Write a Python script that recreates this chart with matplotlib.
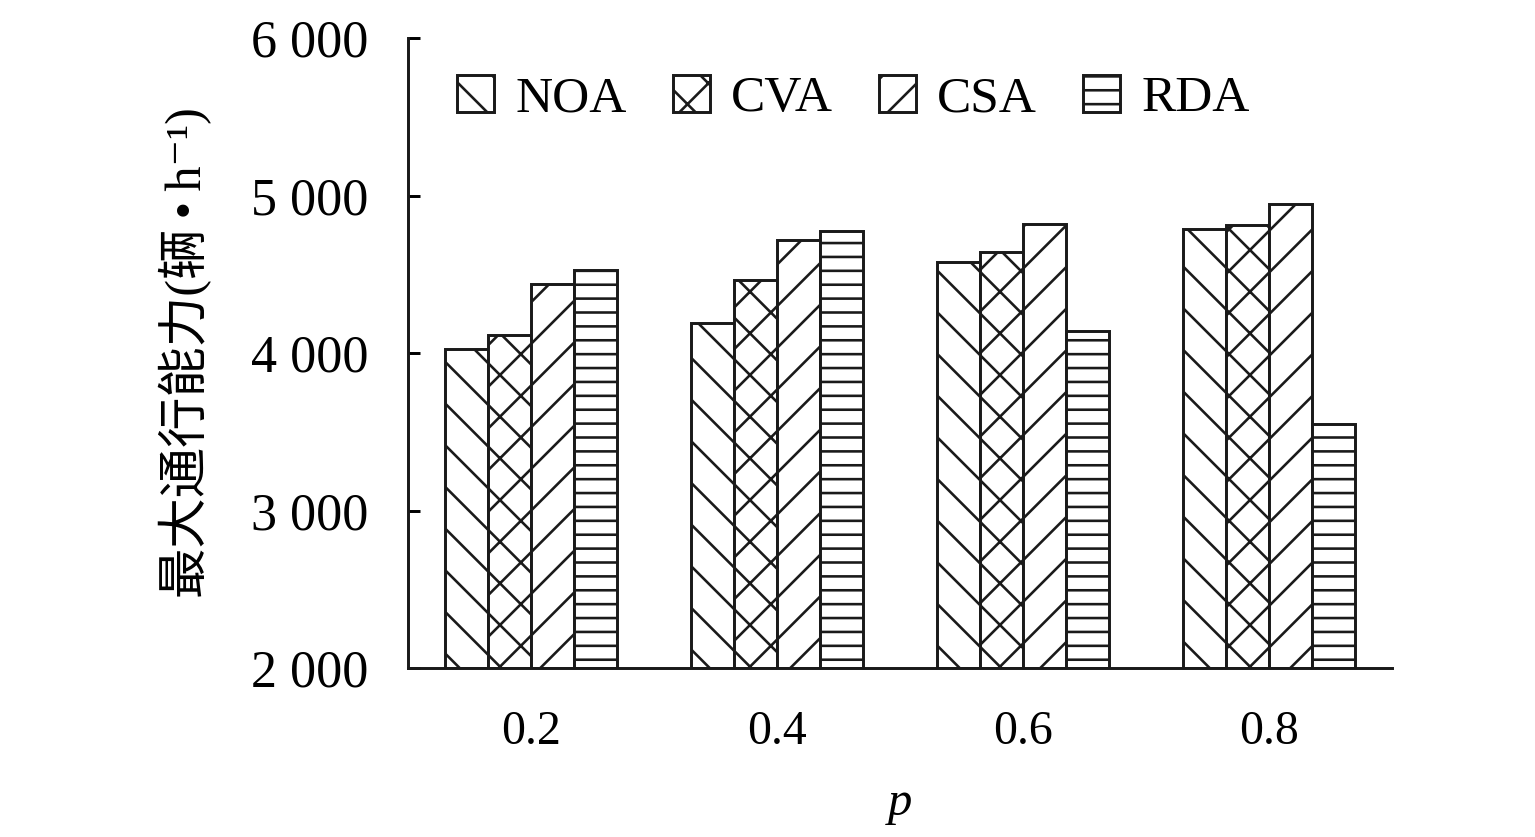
import numpy as np
import matplotlib
matplotlib.use("Agg")
import matplotlib.pyplot as plt

plt.rcParams['font.family'] = ['Liberation Serif', 'Noto Sans CJK SC', 'DejaVu Sans']
plt.rcParams['hatch.linewidth'] = 0.75

# dados
p_labels = ["0.2", "0.4", "0.6", "0.8"]
series = ["NOA", "CVA", "CSA", "RDA"]
noa = [4025, 4190, 4578, 4787]
cva = [4114, 4463, 4641, 4813]
csa = [4438, 4717, 4819, 4946]
rda = [4527, 4775, 4140, 3549]
hatches = ["\\\\", "xx", "//", "---"]

valores = [noa, cva, csa, rda]

fig = plt.figure(figsize=(6.14, 3.348), dpi=250)
ax = fig.add_axes([0.2658, 0.2019, 0.641, 0.7527])

x = np.arange(len(p_labels))
w = 0.175
for i, (nome, vals, h) in enumerate(zip(series, valores, hatches)):
    ax.bar(x + (i - 1.5) * w, np.array(vals) - 2000, w, bottom=2000,
           color="white", edgecolor="#1a1a1a", linewidth=0.85, hatch=h, label=nome)

ax.set_xlim(-0.5, 3.5)
ax.set_ylim(2000, 6000)
ax.set_yticks([2000, 3000, 4000, 5000, 6000])
ax.set_yticklabels(["2 000", "3 000", "4 000", "5 000", "6 000"])
ax.set_xticks(x)
ax.set_xticklabels(p_labels)

ax.spines["top"].set_visible(False)
ax.spines["right"].set_visible(False)
for s in ["left", "bottom"]:
    ax.spines[s].set_linewidth(0.85)
    ax.spines[s].set_color("#1a1a1a")

ax.tick_params(axis="y", direction="in", length=3.5, width=0.85, pad=11.5, labelsize=15)
ax.tick_params(axis="x", length=0, pad=12, labelsize=13.8)

ax.set_xlabel("p", fontsize=14, fontstyle="italic", labelpad=8)
ax.set_ylabel("最大通行能力(辆\u2009•\u2009h⁻¹)", fontsize=14.5, labelpad=11)

ax.legend(ncol=4, frameon=False, loc="upper left", bbox_to_anchor=(0.029, 0.974),
          fontsize=14.8, handlelength=0.72, handleheight=0.72,
          handletextpad=0.41, columnspacing=0.9, borderaxespad=0)

fig.savefig("out.png", dpi=250)
